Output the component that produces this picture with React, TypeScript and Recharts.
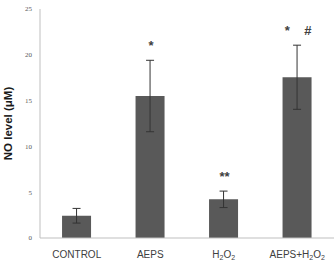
import { BarChart, Bar, XAxis, YAxis, ErrorBar, LabelList } from "recharts";

const groups = ["CONTROL", "AEPS", "H2O2", "AEPS+H2O2"];
const noLevel = [2.43, 15.5, 4.22, 17.55];
const sem = [0.8, 3.9, 0.9, 3.5];
const marks = ["", "*", "**", "*    #"];
const yTicks = [0, 5, 10, 15, 20, 25];

const data = groups.map((g, i) => ({
  group: g,
  value: noLevel[i],
  err: sem[i],
  mark: marks[i],
}));

function GroupTick(props: any) {
  const { x, y, payload } = props;
  const label: string = payload.value;
  const parts = label.split(/(2)/).filter((s) => s !== "");
  return (
    <text
      x={x}
      y={y + 12}
      textAnchor="middle"
      fontSize={10}
      fill="#404040"
      fontFamily="Liberation Sans, Arial, sans-serif"
    >
      {parts.map((p, i) =>
        p === "2" ? (
          <tspan key={i} fontSize={7} dy={2}>
            2
          </tspan>
        ) : (
          <tspan key={i} dy={i > 0 && parts[i - 1] === "2" ? -2 : 0}>
            {p}
          </tspan>
        )
      )}
    </text>
  );
}

function MarkLabel(props: any) {
  const { x, y, width, height, index, value } = props;
  if (!value) return null;
  const d = data[index];
  const pxPerUnit = height / d.value;
  const errTop = y - d.err * pxPerUnit;
  return (
    <text
      x={x + width / 2 + 1}
      y={errTop - 10}
      textAnchor="middle"
      fontSize={13}
      fontWeight="bold"
      fill="#404040"
      fontFamily="Liberation Sans, Arial, sans-serif"
      style={{ whiteSpace: "pre" }}
    >
      {value}
    </text>
  );
}

export default function App() {
  return (
    <div style={{ position: "absolute", left: 0, top: 0 }}>
      <BarChart
        width={334}
        height={261}
        data={data}
        margin={{ top: 9, right: 0, left: 0, bottom: 0 }}
        barCategoryGap="30%"
      >
        <XAxis
          dataKey="group"
          tick={<GroupTick />}
          tickLine={false}
          axisLine={{ stroke: "#bfbfbf" }}
          height={23}
          interval={0}
        />
        <YAxis
          domain={[0, 25]}
          ticks={yTicks}
          tick={{ fontSize: 7, fill: "#595959" }}
          tickLine={false}
          axisLine={{ stroke: "#bfbfbf" }}
          width={40}
          label={{
            value: "NO level (μM)",
            angle: -90,
            position: "insideLeft",
            dx: 3,
            style: {
              textAnchor: "middle",
              fontSize: 11.5,
              fontWeight: "bold",
              fill: "#1a1a1a",
              fontFamily: "Liberation Sans, Arial, sans-serif",
            },
          }}
        />
        <Bar dataKey="value" fill="#595959" isAnimationActive={false}>
          <ErrorBar dataKey="err" width={4} stroke="#333333" strokeWidth={1} />
          <LabelList dataKey="mark" content={<MarkLabel />} />
        </Bar>
      </BarChart>
    </div>
  );
}
